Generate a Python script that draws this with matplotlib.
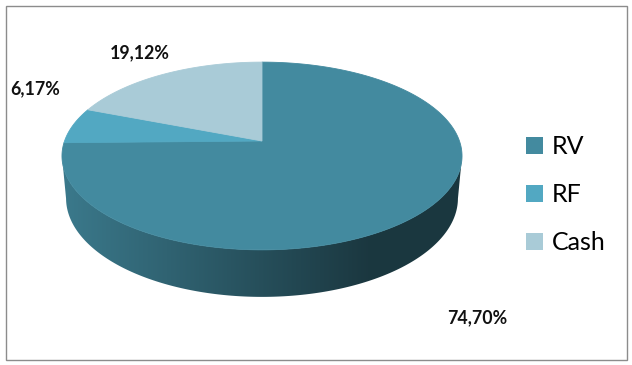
import numpy as np
import matplotlib
matplotlib.use("Agg")
import matplotlib.pyplot as plt
from matplotlib.patches import Polygon, Rectangle, Patch

# ---- data ----
categories = ["RV", "RF", "Cash"]
values = [74.70, 6.17, 19.12]
label_texts = ["74,70%", "6,17%", "19,12%"]
colors = ["#438a9f", "#52a8c2", "#a9cbd7"]

# ---- layout (pixels) ----
W, H = 632, 365
label_xy = [(477, 318), (35, 89), (140, 53)]
cx, cy = 262.0, 141.0          # apex of the pie on screen
phi = np.radians(27.6)          # camera elevation
dist = 5.553                    # camera distance (pie radius = 1)
K = 1096.5                      # screen scale
hgt = 0.244                     # pie thickness
s, c = np.sin(phi), np.cos(phi)

fig = plt.figure(figsize=(W / 100, H / 100), dpi=100)
ax = fig.add_axes([0, 0, 1, 1])
ax.set_xlim(0, W)
ax.set_ylim(H, 0)
ax.axis("off")

font = "Lato"


def proj(theta, z, r=1.0):
    x = r * np.cos(theta)
    y = r * np.sin(theta)
    ycam = y * s + z * c
    zcam = y * c + dist - z * s
    return cx + K * x / zcam, cy - K * ycam / zcam


def shade(x):
    return np.clip(0.88 - (x - 62) / (370 - 62) * 0.48, 0.40, 0.88)


total = sum(values)
starts = []
a = np.pi / 2
for v in values:
    e = a - 2 * np.pi * v / total
    starts.append((a, e))
    a = e

# visible front range of the side wall
sil = np.arcsin(c / dist)
vis_lo, vis_hi = -np.pi + sil, -sil  # angles in (-pi, 0)

# ---- sides ----
xs = np.linspace(40, 490, 460)
for (a0, a1), col in zip(starts, colors):
    lo, hi = min(a0, a1), max(a0, a1)
    segs = []
    for off in (-2 * np.pi, 0, 2 * np.pi):
        l2, h2 = max(lo + off, vis_lo), min(hi + off, vis_hi)
        if h2 > l2:
            segs.append((l2, h2))
    base = np.array(matplotlib.colors.to_rgb(col))
    for l2, h2 in segs:
        th = np.linspace(l2, h2, 200)
        tx, ty = proj(th, 0.0)
        bx, by = proj(th[::-1], -hgt)
        poly = Polygon(np.column_stack([np.r_[tx, bx], np.r_[ty, by]]),
                       closed=True, facecolor="none", edgecolor="none")
        ax.add_patch(poly)
        grad = (shade(xs)[:, None] * base[None, :])[None, :, :]
        im = ax.imshow(grad, extent=(40, 490, 320, 40), aspect="auto",
                       interpolation="bilinear", zorder=1)
        im.set_clip_path(poly)

# ---- top faces ----
for (a0, a1), col in zip(starts, colors):
    th = np.linspace(a0, a1, 300)
    px, py = proj(th, 0.0)
    pts = np.column_stack([np.r_[cx, px], np.r_[cy, py]])
    ax.add_patch(Polygon(pts, closed=True, facecolor=col, edgecolor=col,
                         linewidth=0.6, zorder=3))

ax.set_xlim(0, W)
ax.set_ylim(H, 0)

# ---- data labels ----
for txt, (lx, ly) in zip(label_texts, label_xy):
    ax.text(lx, ly, txt, ha="center", va="center", fontsize=12.8,
            fontweight="bold", family=font, color="#111111", zorder=5)

# ---- legend ----
handles = [Patch(facecolor=col, edgecolor="none") for col in colors]
ax.legend(handles, categories, loc="center left",
          bbox_to_anchor=(526 / W, 1 - 195 / H), frameon=False,
          prop={"family": font, "size": 18}, handlelength=0.66,
          handleheight=0.66, handletextpad=0.36, labelspacing=1.0,
          borderaxespad=0, borderpad=0)

# ---- frame ----
fig.patches.append(Rectangle((5.5 / W, 5.5 / H), 621 / W, 354 / H,
                             transform=fig.transFigure, fill=False,
                             edgecolor="#8c8c8c", linewidth=1.0))

fig.savefig("out.png", dpi=100)
